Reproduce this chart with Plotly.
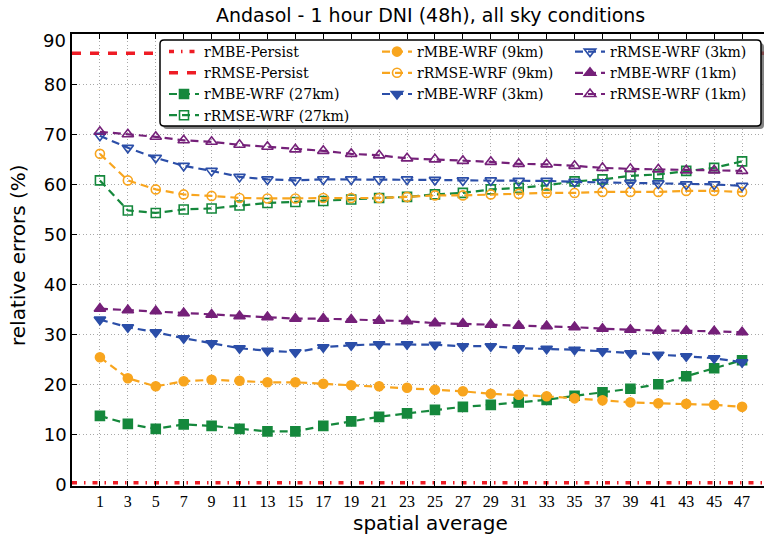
import plotly.graph_objects as go

# spatial averaging window sizes
spatial_avg = [1, 3, 5, 7, 9, 11, 13, 15, 17, 19, 21, 23,
               25, 27, 29, 31, 33, 35, 37, 39, 41, 43, 45, 47]

# persistence reference errors (constant across averaging windows)
persist_x = [-1, 50]
rmbe_persist = [0.45, 0.45]
rrmse_persist = [86.2, 86.2]

# WRF 27 km
rmbe_27 = [13.8, 12.2, 11.2, 12.1, 11.8, 11.2, 10.7, 10.7, 11.8, 12.7, 13.6, 14.3,
           15.0, 15.6, 16.0, 16.5, 17.0, 17.8, 18.5, 19.2, 20.1, 21.7, 23.3, 24.9]
rrmse_27 = [60.8, 54.8, 54.3, 55.0, 55.2, 55.8, 56.3, 56.5, 56.7, 57.0, 57.3, 57.5,
            58.0, 58.3, 59.0, 59.3, 59.8, 60.6, 61.0, 61.7, 62.0, 62.7, 63.3, 64.6]
# WRF 9 km
rmbe_9 = [25.5, 21.3, 19.7, 20.7, 21.0, 20.8, 20.5, 20.5, 20.2, 19.9, 19.7, 19.4,
          19.0, 18.7, 18.2, 18.0, 17.7, 17.3, 16.9, 16.5, 16.3, 16.2, 16.0, 15.6]
rrmse_9 = [66.1, 60.8, 59.0, 58.0, 57.7, 57.3, 57.2, 57.2, 57.3, 57.3, 57.3, 57.5,
           57.8, 57.8, 58.0, 58.1, 58.3, 58.3, 58.5, 58.5, 58.5, 58.7, 58.7, 58.5]
# WRF 3 km
rmbe_3 = [33.0, 31.5, 30.5, 29.3, 28.3, 27.3, 26.8, 26.5, 27.5, 27.9, 28.1, 28.1,
          28.0, 27.7, 27.7, 27.3, 27.2, 27.0, 26.7, 26.3, 26.0, 25.7, 25.3, 24.5]
rrmse_3 = [69.7, 67.3, 65.3, 63.7, 62.7, 61.5, 61.0, 60.8, 61.0, 61.0, 61.0, 61.0,
           60.9, 60.8, 60.8, 60.7, 60.7, 60.5, 60.4, 60.3, 60.2, 60.0, 60.0, 59.7]
# WRF 1 km
rmbe_1 = [35.2, 34.9, 34.7, 34.3, 34.0, 33.7, 33.5, 33.2, 33.2, 33.0, 32.8, 32.7,
          32.3, 32.2, 32.0, 31.8, 31.7, 31.5, 31.2, 31.0, 30.8, 30.8, 30.7, 30.5]
rrmse_1 = [70.5, 70.0, 69.5, 68.8, 68.5, 67.9, 67.5, 67.0, 66.7, 66.1, 65.8, 65.2,
           65.0, 64.7, 64.5, 64.1, 64.0, 63.7, 63.3, 63.1, 63.0, 62.8, 62.8, 62.7]

x_tick_labels = [str(v) for v in spatial_avg]
y_ticks = list(range(0, 91, 10))
# the top label is placed separately, slightly below the frame
y_tick_labels = [str(v) if v < 90 else "" for v in y_ticks]

RED = "#ee1c25"
GREEN = "#15883c"
ORANGE = "#f8a51e"
BLUE = "#2b4ea8"
PURPLE = "#752079"

W, H = 764, 538
ML, MR, MT, MB = 72, 0, 34, 52
PW, PH = W - ML - MR, H - MT - MB


def px_x(px):
    return (px - ML) / PW


def px_y(py):
    return (H - MB - py) / PH


LINE_DASH = "8px,5px"

fig = go.Figure()


def series(name, y, color, symbol, legend, size=9):
    fig.add_trace(go.Scatter(
        x=spatial_avg, y=y, name=name, mode="lines+markers",
        line=dict(color=color, width=2.2, dash=LINE_DASH),
        marker=dict(symbol=symbol, size=size, color=color,
                    line=dict(color=color, width=1.6)),
        legend=legend,
    ))


# column 1 of the legend
fig.add_trace(go.Scatter(
    x=persist_x, y=rmbe_persist, name="rMBE-Persist", mode="lines",
    line=dict(color=RED, width=3.5, dash="5px,7px,1.5px,7px"), legend="legend"))
fig.add_trace(go.Scatter(
    x=persist_x, y=rrmse_persist, name="rRMSE-Persist", mode="lines",
    line=dict(color=RED, width=3.5, dash="9px,9px"), legend="legend"))
series("rMBE-WRF (27km)", rmbe_27, GREEN, "square", "legend")
series("rRMSE-WRF (27km)", rrmse_27, GREEN, "square-open", "legend")
# column 2
series("rMBE-WRF (9km)", rmbe_9, ORANGE, "circle", "legend2")
series("rRMSE-WRF (9km)", rrmse_9, ORANGE, "circle-open", "legend2")
series("rMBE-WRF (3km)", rmbe_3, BLUE, "triangle-down", "legend2", 10)
# column 3
series("rRMSE-WRF (3km)", rrmse_3, BLUE, "triangle-down-open", "legend3", 10)
series("rMBE-WRF (1km)", rmbe_1, PURPLE, "triangle-up", "legend3", 10)
series("rRMSE-WRF (1km)", rrmse_1, PURPLE, "triangle-up-open", "legend3", 10)


def rounded_rect(x0, y0, x1, y1, r=4):
    # rounded rectangle path given in pixel coordinates, emitted in paper units
    pts = [
        ("M", x0 + r, y0), ("L", x1 - r, y0), ("Q", x1, y0, x1, y0 + r),
        ("L", x1, y1 - r), ("Q", x1, y1, x1 - r, y1), ("L", x0 + r, y1),
        ("Q", x0, y1, x0, y1 - r), ("L", x0, y0 + r), ("Q", x0, y0, x0 + r, y0),
    ]
    out = []
    for p in pts:
        cmd = p[0]
        coords = p[1:]
        conv = []
        for i in range(0, len(coords), 2):
            conv.append(f"{px_x(coords[i]):.5f},{px_y(coords[i + 1]):.5f}")
        out.append(cmd + " ".join(conv))
    return " ".join(out) + " Z"


box = (160, 40, 761, 126)
shapes = [
    dict(type="path", xref="paper", yref="paper", layer="above",
         path=rounded_rect(box[0] + 3, box[1] + 3, box[2] + 3, box[3] + 3),
         fillcolor="rgba(90,90,90,0.75)", line=dict(width=0)),
    dict(type="path", xref="paper", yref="paper", layer="above",
         path=rounded_rect(*box),
         fillcolor="white", line=dict(color="black", width=1.5)),
]

legend_common = dict(
    bgcolor="rgba(0,0,0,0)", borderwidth=0,
    font=dict(family="DejaVu Serif", size=14, color="black"),
    xanchor="left", yanchor="top", traceorder="normal",
)

fig.update_layout(
    width=W, height=H,
    margin=dict(l=ML, r=MR, t=MT, b=MB),
    paper_bgcolor="white", plot_bgcolor="white",
    showlegend=True,
    legend=dict(x=px_x(164), y=px_y(36), **legend_common),
    legend2=dict(x=px_x(377), y=px_y(36), **legend_common),
    legend3=dict(x=px_x(570), y=px_y(36), **legend_common),
    shapes=shapes,
    xaxis=dict(
        range=[-1, 48.57], tickvals=spatial_avg, ticktext=x_tick_labels,
        tickfont=dict(family="Liberation Serif", size=16, color="black"),
        ticks="inside", ticklen=5, tickcolor="black", tickwidth=1,
        showline=True, linecolor="black", linewidth=1.5, mirror="ticks",
        showgrid=True, gridcolor="#a8a8a8", gridwidth=1, griddash="1px,2.5px",
        zeroline=False,
    ),
    yaxis=dict(
        range=[-0.2, 90.02], tickvals=y_ticks, ticktext=y_tick_labels,
        tickfont=dict(family="DejaVu Sans", size=18, color="black"),
        ticks="inside", ticklen=5, tickcolor="black", tickwidth=1,
        showline=True, linecolor="black", linewidth=1.5, mirror=False,
        showgrid=True, gridcolor="#a8a8a8", gridwidth=1, griddash="1px,2.5px",
        zeroline=False,
    ),
    annotations=[
        dict(text="90", xref="paper", yref="paper", x=px_x(68), y=px_y(41),
             xanchor="right", yanchor="middle", showarrow=False,
             font=dict(family="DejaVu Sans", size=18, color="black")),
        dict(text="Andasol - 1 hour DNI (48h), all sky conditions",
             xref="paper", yref="paper", x=px_x(430), y=px_y(15),
             xanchor="center", yanchor="middle", showarrow=False,
             font=dict(family="DejaVu Sans", size=19, color="black")),
        dict(text="spatial average",
             xref="paper", yref="paper", x=px_x(430), y=px_y(523),
             xanchor="center", yanchor="middle", showarrow=False,
             font=dict(family="DejaVu Sans", size=20, color="black")),
        dict(text="relative errors (%)", textangle=-90,
             xref="paper", yref="paper", x=px_x(18), y=px_y(255),
             xanchor="center", yanchor="middle", showarrow=False,
             font=dict(family="DejaVu Sans", size=20, color="black")),
    ],
)

fig.write_html("out.html")
